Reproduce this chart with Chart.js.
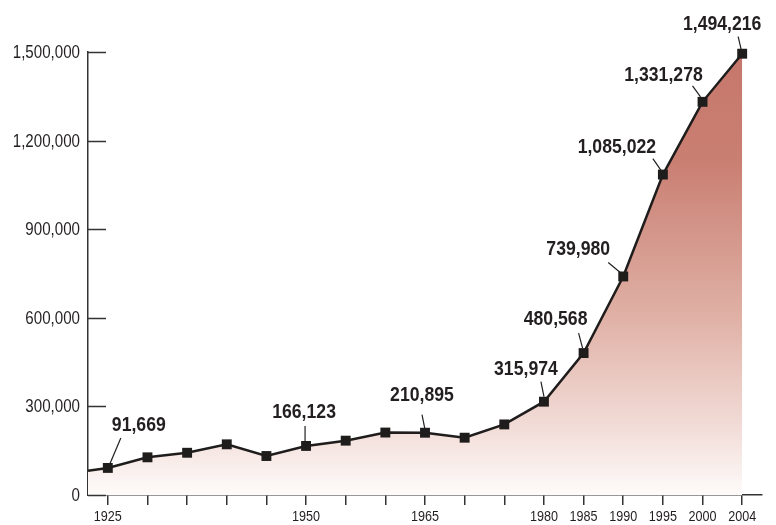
<!DOCTYPE html>
<html>
<head>
<meta charset="utf-8">
<script src="https://cdn.jsdelivr.net/npm/chart.js"></script>
<style>
  html, body { margin: 0; padding: 0; background: #fff; }
  #chart { display: block; }
</style>
</head>
<body>
<canvas id="chart" width="776" height="525"></canvas>
<script>
// one category per point, only some carry a visible year
const years = ['1925', '', '', '', '', '1950', '', '', '1965', '', '', '1980', '1985', '1990', '1995', '2000', '2004'];
const values = [91669, 127600, 143000, 171600, 132000, 166123, 184000, 211500, 210895, 194000, 239000, 315974, 480568, 739980, 1085022, 1331278, 1494216];
// the line enters from the left edge before 1925
const leadValue = 82000;
const labelled = [0, 5, 8, 11, 12, 13, 14, 15, 16];
const yTicks = [0, 300000, 600000, 900000, 1200000, 1500000];

// label placement relative to its point: [text dx, text dy, leader x1, y1, x2, y2]
const labelOffsets = {
  0: [31, -44, 13, -30, 2, -4],
  5: [-2, -35, -1, -20, -1, -4],
  8: [-3, -39, -3, -18, 0, -3],
  11: [-18, -33, -3, -20, 0, -5],
  12: [-28, -35, -5, -20, -1, -5],
  13: [-45, -28, -15, -14, -3, -4],
  14: [-46, -28, -10, -16, -1, -3],
  15: [-39, -28, -10, -16, -2, -5],
  16: [-20, -31, -4, -17, -1, -4],
};

const FONT = "'Liberation Sans', Arial, sans-serif";
const NARROW = 0.84; // squeeze text to look like a condensed face
const INK = '#231f20';
const fmt = (v) => v.toLocaleString('en-US');

const points = [{ x: -0.5, y: leadValue }].concat(values.map((v, i) => ({ x: i, y: v })));

// draw text horizontally condensed
function narrowText(ctx, text, x, y, align) {
  ctx.save();
  ctx.textAlign = align;
  ctx.textBaseline = 'middle';
  ctx.scale(NARROW, 1);
  ctx.fillText(text, x / NARROW, y);
  ctx.restore();
}

const extras = {
  id: 'extras',
  afterDatasetsDraw(chart) {
    const { ctx, chartArea } = chart;
    const { x: xScale, y: yScale } = chart.scales;
    ctx.save();
    // inward tick marks on the value axis
    ctx.strokeStyle = '#333';
    ctx.lineWidth = 1.5;
    yTicks.forEach((t) => {
      const py = Math.round(yScale.getPixelForValue(t)) + 0.5;
      ctx.beginPath();
      ctx.moveTo(chartArea.left, py);
      ctx.lineTo(chartArea.left + 18, py);
      ctx.stroke();
    });
    ctx.fillStyle = INK;
    // axis labels
    ctx.font = `18px ${FONT}`;
    yTicks.forEach((t) => {
      narrowText(ctx, fmt(t), chartArea.left - 8, yScale.getPixelForValue(t) + 1, 'right');
    });
    ctx.font = `15px ${FONT}`;
    years.forEach((yr, i) => {
      if (yr) narrowText(ctx, yr, xScale.getPixelForValue(i), chartArea.bottom + 22, 'center');
    });
    // value labels with short leaders
    const meta = chart.getDatasetMeta(0);
    ctx.font = `bold 21px ${FONT}`;
    ctx.lineWidth = 1.2;
    ctx.strokeStyle = INK;
    labelled.forEach((i) => {
      const el = meta.data[i + 1];
      const o = labelOffsets[i];
      ctx.beginPath();
      ctx.moveTo(el.x + o[2], el.y + o[3]);
      ctx.lineTo(el.x + o[4], el.y + o[5]);
      ctx.stroke();
      narrowText(ctx, fmt(values[i]), el.x + o[0], el.y + o[1] + 1, 'center');
    });
    ctx.restore();
  },
};

new Chart(document.getElementById('chart'), {
  type: 'line',
  data: {
    datasets: [{
      data: points,
      borderColor: '#1f1c1c',
      borderWidth: 2.5,
      tension: 0,
      clip: false,
      fill: 'origin',
      backgroundColor: (context) => {
        const { chart } = context;
        const area = chart.chartArea;
        if (!area) return 'rgba(200,120,110,0.5)';
        const g = chart.ctx.createLinearGradient(0, area.top, 0, area.bottom);
        g.addColorStop(0, '#c6776b');
        g.addColorStop(0.25, '#ca7f73');
        g.addColorStop(0.6, '#e0b1a6');
        g.addColorStop(0.85, '#f2ddd8');
        g.addColorStop(1, '#fefbfa');
        return g;
      },
      pointStyle: 'rect',
      pointRadius: points.map((p, i) => (i === 0 ? 0 : 7)),
      pointBackgroundColor: '#1f1c1c',
      pointBorderWidth: 0,
    }],
  },
  options: {
    responsive: false,
    animation: false,
    events: [],
    layout: {
      padding: { left: 0, top: 52, right: 14, bottom: 0 },
    },
    plugins: {
      legend: { display: false },
      tooltip: { enabled: false },
    },
    scales: {
      x: {
        type: 'linear',
        min: -0.5,
        max: years.length - 0.5,
        afterBuildTicks: (scale) => {
          scale.ticks = years.map((y, i) => ({ value: i }));
        },
        afterFit: (scale) => { scale.height = 30; },
        grid: {
          drawOnChartArea: false,
          drawTicks: true,
          tickLength: 10,
          color: '#333',
          lineWidth: 1.5,
        },
        border: { display: true, color: '#333', width: 1.5 },
        ticks: { display: false },
      },
      y: {
        min: 0,
        max: 1500000,
        afterBuildTicks: (scale) => {
          scale.ticks = yTicks.map((v) => ({ value: v }));
        },
        afterFit: (scale) => { scale.width = 88; },
        grid: { display: false, drawTicks: false },
        border: { display: true, color: '#333', width: 1.5 },
        ticks: { display: false },
      },
    },
  },
  plugins: [extras],
});
</script>
</body>
</html>
